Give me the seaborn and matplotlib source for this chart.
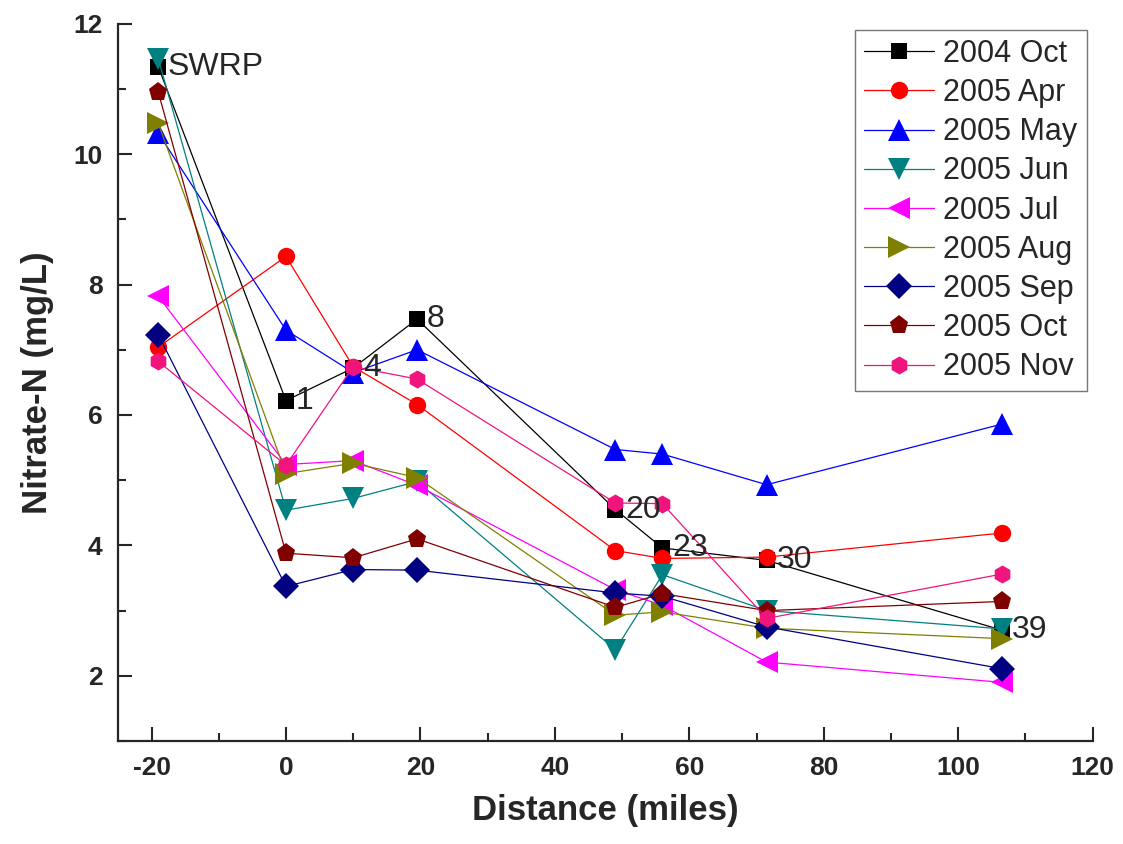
import matplotlib
matplotlib.use("Agg")
import matplotlib.pyplot as plt
from matplotlib.ticker import MultipleLocator
import seaborn as sns
import pandas as pd

# station distances (miles) and nitrate readings per sampling month
distance = [-19, 0, 10, 19.5, 49, 56, 71.5, 106.5]
station_labels = ["SWRP", "1", "4", "8", "20", "23", "30", "39"]

oct_2004 = [11.34, 6.22, 6.72, 7.47, 4.55, 3.96, 3.77, 2.70]
apr_2005 = [7.04, 8.43, 6.74, 6.16, 3.92, 3.80, 3.82, 4.19]
may_2005 = [10.32, 7.30, 6.65, 7.00, 5.47, 5.40, 4.93, 5.86]
jun_2005 = [11.46, 4.54, 4.72, 4.98, 2.40, 3.55, 3.00, 2.72]
jul_2005 = [7.82, 5.24, 5.30, 4.92, 3.32, 3.08, 2.21, 1.90]
aug_2005 = [10.47, 5.10, 5.26, 5.04, 2.93, 2.98, 2.73, 2.57]
sep_2005 = [7.23, 3.37, 3.63, 3.62, 3.27, 3.22, 2.75, 2.11]
oct_2005 = [10.95, 3.88, 3.81, 4.10, 3.05, 3.26, 3.00, 3.14]
nov_2005 = [6.82, 5.23, 6.74, 6.55, 4.65, 4.64, 2.88, 3.56]

series_names = ["2004 Oct", "2005 Apr", "2005 May", "2005 Jun", "2005 Jul",
                "2005 Aug", "2005 Sep", "2005 Oct", "2005 Nov"]
series_values = [oct_2004, apr_2005, may_2005, jun_2005, jul_2005,
                 aug_2005, sep_2005, oct_2005, nov_2005]

colors = ["#000000", "#FF0000", "#0000FF", "#008080", "#FF00FF",
          "#808000", "#000080", "#800000", "#F0147C"]
markers = ["s", "o", "^", "v", "<", ">", "D", "p", "h"]
# origin-style markers are not all the same size
marker_sizes = {"s": 11.5, "o": 12.5, "^": 15.5, "v": 15.5, "<": 15.5,
                ">": 15.5, "D": 13, "p": 14, "h": 13}

rows = []
for name, vals in zip(series_names, series_values):
    for d, v in zip(distance, vals):
        rows.append({"Distance": d, "Nitrate": v, "Month": name})
df = pd.DataFrame(rows)

sns.set_style("ticks")
plt.rcParams["font.family"] = ["Liberation Sans", "DejaVu Sans"]
plt.rcParams["axes.unicode_minus"] = False

fig = plt.figure(figsize=(11.23, 8.44), dpi=100)
ax = fig.add_axes([0.105, 0.122, 0.868, 0.85])

sns.lineplot(data=df, x="Distance", y="Nitrate", hue="Month", style="Month",
             hue_order=series_names, style_order=series_names,
             palette=dict(zip(series_names, colors)),
             markers=dict(zip(series_names, markers)), dashes=False,
             markersize=14, markeredgewidth=0, linewidth=0.9,
             estimator=None, ax=ax)

for ln in ax.lines:
    m = ln.get_marker()
    if m in marker_sizes:
        ln.set_markersize(marker_sizes[m])

# station labels next to the 2004 Oct points
for d, v, lab in zip(distance, oct_2004, station_labels):
    ax.annotate(lab, (d, v), xytext=(7, 0), textcoords="offset points",
                va="center", ha="left", fontsize=23)

ax.set_xlim(-25, 120)
ax.set_ylim(1, 12)
ax.xaxis.set_major_locator(MultipleLocator(20))
ax.xaxis.set_minor_locator(MultipleLocator(10))
ax.yaxis.set_major_locator(MultipleLocator(2))
ax.yaxis.set_minor_locator(MultipleLocator(1))
ax.tick_params(which="major", direction="in", length=10, width=1.5,
               labelsize=19, pad=11)
ax.tick_params(which="minor", direction="in", length=6, width=1.5)
for lab in ax.get_xticklabels() + ax.get_yticklabels():
    lab.set_fontweight("bold")

sns.despine(ax=ax)
for sp in ["left", "bottom"]:
    ax.spines[sp].set_linewidth(1.6)

ax.set_xlabel("Distance (miles)", fontsize=25, fontweight="bold", labelpad=10)
ax.set_ylabel("Nitrate-N (mg/L)", fontsize=25, fontweight="bold", labelpad=14)

handles, labels = ax.get_legend_handles_labels()
leg = ax.legend(handles, labels, loc="upper right", fontsize=22,
                frameon=True, fancybox=False, edgecolor="#555555",
                handlelength=2.3, labelspacing=0.3, borderpad=0.3,
                handletextpad=0.3, borderaxespad=0.2)
leg.get_frame().set_linewidth(1.0)
for h in leg.legend_handles:
    m = h.get_marker()
    if m in marker_sizes:
        h.set_markersize(marker_sizes[m])

fig.savefig("out.png", dpi=100)
